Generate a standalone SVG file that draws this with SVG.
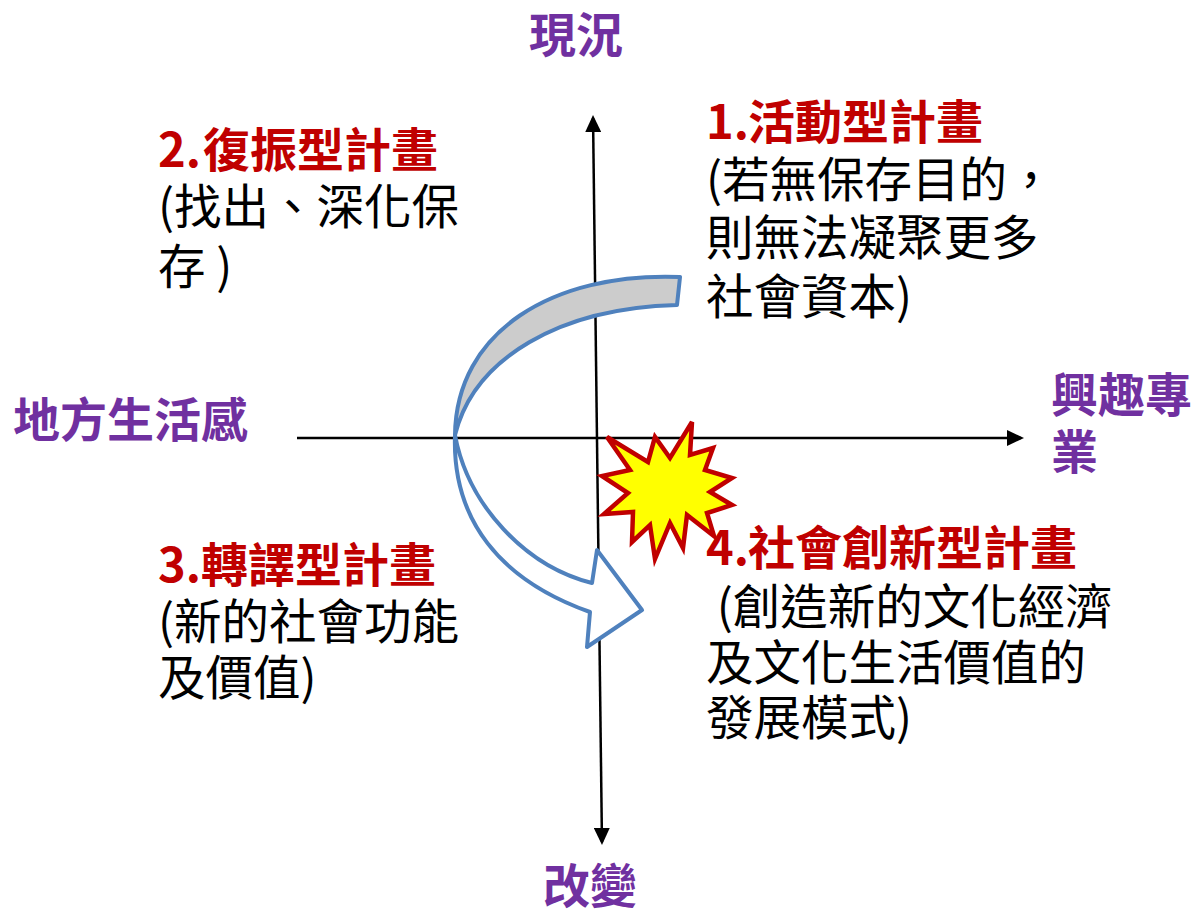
<svg xmlns="http://www.w3.org/2000/svg" width="1196" height="911" viewBox="0 0 1196 911">
<style>
text{font-family:"Noto Sans CJK TC","Noto Sans CJK SC",sans-serif;font-size:47px}
.axis{fill:#7030A0;font-weight:bold}
.title{fill:#C00000;font-weight:bold}
.body{fill:#000000;font-size:47.5px}
.ax{stroke:#000;stroke-width:2.5;fill:none}
.band{stroke:#4F81BD;stroke-width:4;stroke-linejoin:round}
</style>
<defs>
<marker id="ah" viewBox="0 0 17 16" refX="14" refY="8" markerWidth="17" markerHeight="16" markerUnits="userSpaceOnUse" orient="auto-start-reverse">
<path d="M0,0 L17,8 L0,16 Z" fill="#000"/>
</marker>
</defs>
<rect width="1196" height="911" fill="#fff"/>
<g id="connectors">
<line class="ax" x1="297" y1="438" x2="1021" y2="438" marker-end="url(#ah)"/>
<line class="ax" x1="593.04" y1="118" x2="601.96" y2="842" marker-start="url(#ah)" marker-end="url(#ah)"/>
</g>
<g id="curved-arrow">
<path class="band" fill="#CCCCCC" d="M680,277 C552,272 456,332 455,435 C474,358 560,308 677,305 Z"/>
<path class="band" fill="#FFFFFF" d="M455,435 C452,520 500,580 590,612 L587,647 L642,610 L597,550 L592,583 C525,566 468,505 455,435 Z"/>
</g>
<g id="star">
<polygon points="607,437 648,462 655,437 670,458 692,422 690,455 713,448 705,470 732,478 710,492 732,505 707,513 714,536 687,515 683,548 670,523 655,559 650,525 632,542 633,512 604,514 628,493 602,476 630,470" fill="#FFFF00" stroke="#C00000" stroke-width="4.5" stroke-linejoin="miter"/>
</g>
<g id="axis-top"><text class="axis" x="529" y="52">現況</text></g>
<g id="axis-bottom"><text class="axis" x="543" y="903">改變</text></g>
<g id="axis-left"><text class="axis" x="13" y="437">地方生活感</text></g>
<g id="axis-right"><text class="axis" x="1051" y="412">興趣專</text><text class="axis" x="1051" y="469">業</text></g>
<g id="plan-1">
<text class="title" x="706" y="139">1.<tspan x="748">活動型計畫</tspan></text>
<text class="body" x="706" y="197">(若無保存目的，</text>
<text class="body" x="706" y="255">則無法凝聚更多</text>
<text class="body" x="706" y="314">社會資本)</text>
</g>
<g id="plan-2">
<text class="title" x="158" y="167">2.<tspan x="203">復振型計畫</tspan></text>
<text class="body" x="158" y="224">(找出、深化保</text>
<text class="body" x="158" y="284">存 )</text>
</g>
<g id="plan-3">
<text class="title" x="158" y="582">3.<tspan x="201">轉譯型計畫</tspan></text>
<text class="body" x="158" y="639">(新的社會功能</text>
<text class="body" x="158" y="695">及價值)</text>
</g>
<g id="plan-4">
<text class="title" x="706" y="565">4.<tspan x="748">社會創新型計畫</tspan></text>
<text class="body" x="706" y="624" xml:space="preserve"> (創造新的文化經濟</text>
<text class="body" x="706" y="680">及文化生活價值的</text>
<text class="body" x="706" y="735">發展模式)</text>
</g>
</svg>
